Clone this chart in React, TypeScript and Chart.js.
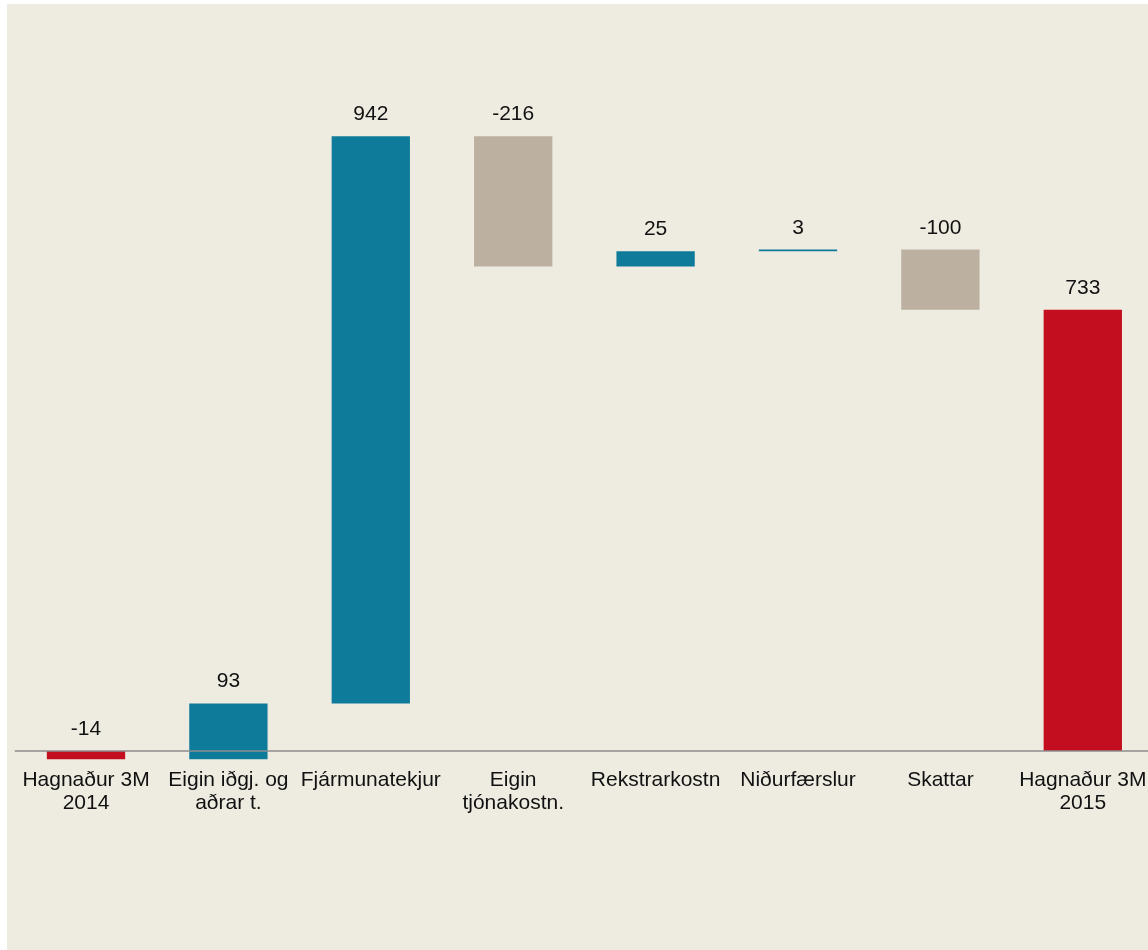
import React, { useEffect, useRef } from "react";
import { Chart, registerables } from "chart.js";

Chart.register(...registerables);

const categories: (string | string[])[] = [
  ["Hagnaður 3M", "2014"],
  ["Eigin iðgj. og", "aðrar t."],
  "Fjármunatekjur",
  ["Eigin", "tjónakostn."],
  "Rekstrarkostn",
  "Niðurfærslur",
  "Skattar",
  ["Hagnaður 3M", "2015"],
];
const deltas = [-14, 93, 942, -216, 25, 3, -100, 733];
const isTotal = [true, false, false, false, false, false, false, true];
const valueLabels = ["-14", "93", "942", "-216", "25", "3", "-100", "733"];

const RED = "#C20E1E";
const BLUE = "#0F7B9B";
const TAN = "#BCB0A1";
const BG = "#EEECE1";
const FONT = "'Liberation Sans', Arial, sans-serif";

function buildFloating() {
  const out: [number, number][] = [];
  let run = 0;
  deltas.forEach((d, i) => {
    if (isTotal[i]) {
      out.push([0, d]);
      run = d;
    } else {
      out.push([run, run + d]);
      run += d;
    }
  });
  return out;
}

export default function App() {
  const ref = useRef<HTMLCanvasElement | null>(null);
  useEffect(() => {
    if (!ref.current) return;
    const floating = buildFloating();
    const colors = deltas.map((d, i) => (isTotal[i] ? RED : d >= 0 ? BLUE : TAN));
    const overlay = {
      id: "overlay",
      afterDatasetsDraw(chart: any) {
        const ctx = chart.ctx;
        const y = chart.scales.y;
        const area = chart.chartArea;
        const y0 = y.getPixelForValue(0);
        ctx.save();
        ctx.strokeStyle = "#8C8C8C";
        ctx.lineWidth = 1.5;
        ctx.beginPath();
        ctx.moveTo(area.left, y0);
        ctx.lineTo(area.right + 10, y0);
        ctx.stroke();
        const meta = chart.getDatasetMeta(0);
        ctx.fillStyle = "#111";
        ctx.font = "21px " + FONT;
        ctx.textAlign = "center";
        ctx.textBaseline = "alphabetic";
        meta.data.forEach((bar: any, i: number) => {
          const [a, b] = floating[i];
          const top = y.getPixelForValue(Math.max(a, b));
          ctx.fillText(valueLabels[i], bar.x, top - 16);
        });
        ctx.restore();
      },
    };
    const chart = new Chart(ref.current, {
      type: "bar",
      data: {
        labels: categories,
        datasets: [
          {
            data: floating as any,
            backgroundColor: colors,
            borderWidth: 0,
            barPercentage: 0.55,
            categoryPercentage: 1,
          },
        ],
      },
      options: {
        responsive: false,
        animation: false,
        layout: { padding: { left: 7.8, right: 3, top: 84.8, bottom: 70.6 } },
        plugins: { legend: { display: false }, tooltip: { enabled: false } },
        scales: {
          y: { display: false, min: -14, max: 1100 },
          x: {
            grid: { display: false },
            border: { display: false },
            afterFit: (s: any) => {
              s.height = 120;
            },
            ticks: {
              autoSkip: false,
              maxRotation: 0,
              minRotation: 0,
              padding: 1,
              color: "#111",
              font: { family: FONT, size: 21, lineHeight: 1.1 },
            },
          },
        },
      },
      plugins: [overlay],
    });
    return () => chart.destroy();
  }, []);
  return (
    <div
      style={{
        position: "fixed",
        left: 7,
        top: 4,
        right: 0,
        bottom: 0,
        background: BG,
        overflow: "hidden",
      }}
    >
      <canvas ref={ref} width={1150} height={946} style={{ display: "block" }} />
    </div>
  );
}
